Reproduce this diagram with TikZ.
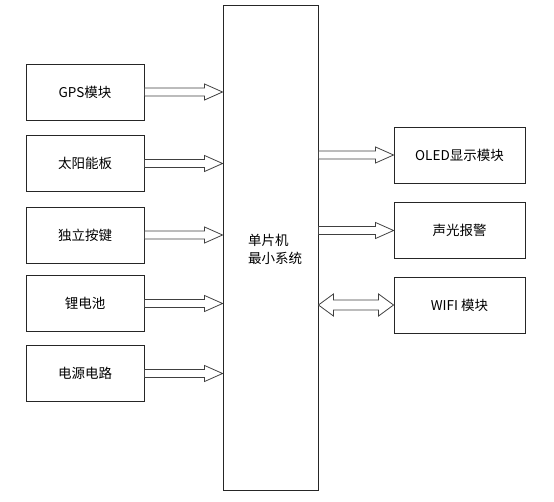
\documentclass[tikz,border=0pt]{standalone}
\usepackage{fontspec}
\setmainfont{Noto Sans CJK SC}
\usetikzlibrary{calc}
\tikzset{
  blk/.style={draw=black!85, line width=0.9pt, minimum width=118pt, minimum height=56pt, inner sep=0pt, font=\fontsize{13.5}{16}\selectfont},
  rblk/.style={blk, minimum width=131pt},
  fat/.style={draw=black!75, line width=0.8pt, fill=white}
}
\newcommand\fatarrow[2]{%
  \draw[fat] let \p1=(#1), \p2=(#2) in
    (\x1,\y1+4pt) -- (\x2-18pt,\y1+4pt) -- (\x2-18pt,\y1+8pt) -- (\x2,\y1)
    -- (\x2-18pt,\y1-8pt) -- (\x2-18pt,\y1-4pt) -- (\x1,\y1-4pt) -- cycle;}
\newcommand\fatdarrow[2]{%
  \draw[fat] let \p1=(#1), \p2=(#2) in
    (\x1,\y1) -- (\x1+15pt,\y1+11pt) -- (\x1+15pt,\y1+5pt) -- (\x2-15pt,\y1+5pt)
    -- (\x2-15pt,\y1+11pt) -- (\x2,\y1) -- (\x2-15pt,\y1-11pt) -- (\x2-15pt,\y1-5pt)
    -- (\x1+15pt,\y1-5pt) -- (\x1+15pt,\y1-11pt) -- cycle;}
\begin{document}
\begin{tikzpicture}[x=1pt,y=-1pt]
\useasboundingbox (0,0) rectangle (554,502);
\node[draw=black!85, line width=0.9pt, minimum width=95pt, minimum height=485pt, inner sep=0pt] (mcu) at (270.5,247.5) {};
\node[font=\fontsize{13.5}{18}\selectfont, align=left, anchor=west, inner sep=0pt] (mcut) at (248,249) {单片机\\最小系统};
\node[blk] (gps) at (85,92) {GPS模块};
\node[blk] (sol) at (85,163.5) {太阳能板};
\node[blk] (key) at (85,235) {独立按键};
\node[blk] (bat) at (85,303.5) {锂电池};
\node[blk] (pwr) at (85,373.5) {电源电路};
\node[rblk] (oled) at (459.5,155) {OLED显示模块};
\node[rblk] (alm) at (459.5,230.5) {声光报警};
\node[rblk] (wifi) at (459.5,305) {WIFI 模块};
\fatarrow{gps.east}{gps.east -| mcu.west}
\fatarrow{sol.east}{sol.east -| mcu.west}
\fatarrow{key.east}{key.east -| mcu.west}
\fatarrow{bat.east}{bat.east -| mcu.west}
\fatarrow{pwr.east}{pwr.east -| mcu.west}
\fatarrow{mcu.east |- oled.west}{oled.west}
\fatarrow{mcu.east |- alm.west}{alm.west}
\fatdarrow{mcu.east |- wifi.west}{wifi.west}
\end{tikzpicture}
\end{document}
